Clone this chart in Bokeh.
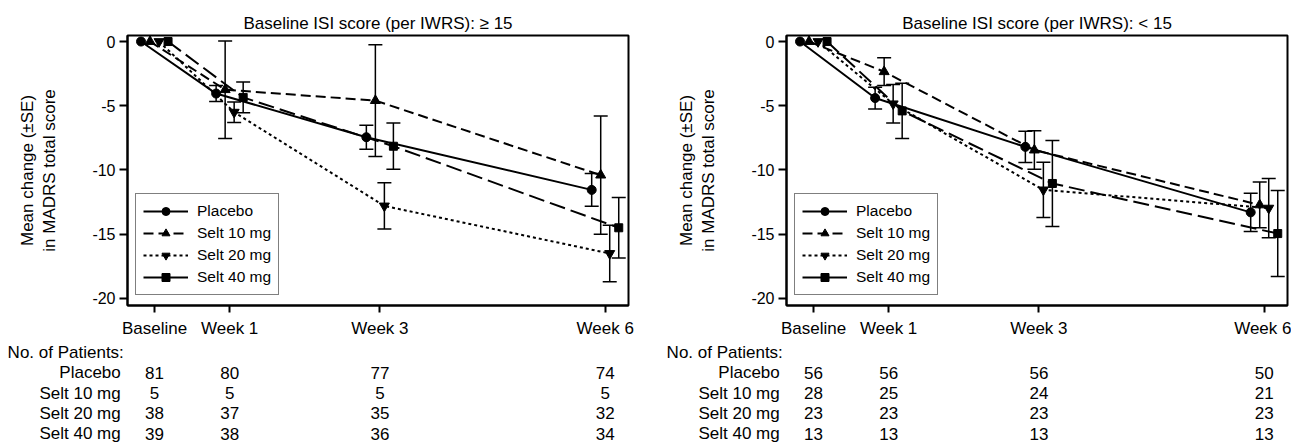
from bokeh.plotting import figure
from bokeh.models import (Range1d, FixedTicker, ColumnDataSource, Whisker, TeeHead,
                          Legend, LegendItem)
from bokeh.layouts import row, column
from bokeh.embed import file_html
from bokeh.resources import INLINE
from bokeh.core.properties import value

# ---------------- data ----------------
weeks = [0, 1, 3, 6]
week_labels = ["Baseline", "Week 1", "Week 3", "Week 6"]
y_ticks = [-20, -15, -10, -5, 0]
y_tick_labels = ["-20", "-15", "-10", "-5", "0"]
series_names = ["Placebo", "Selt 10 mg", "Selt 20 mg", "Selt 40 mg"]

# Panel A: Baseline ISI >= 15
a_title = "Baseline ISI score (per IWRS): \u2265 15"
a_placebo = [0, -4.05, -7.45, -11.55]
a_placebo_se = [0, 0.62, 0.93, 1.28]
a_selt10 = [0, -3.75, -4.6, -10.4]
a_selt10_se = [0, 3.8, 4.35, 4.6]
a_selt20 = [0, -5.5, -12.8, -16.5]
a_selt20_se = [0, 0.8, 1.8, 2.2]
a_selt40 = [0, -4.35, -8.15, -14.5]
a_selt40_se = [0, 1.2, 1.8, 2.35]
a_n_placebo = [81, 80, 77, 74]
a_n_selt10 = [5, 5, 5, 5]
a_n_selt20 = [38, 37, 35, 32]
a_n_selt40 = [39, 38, 36, 34]

# Panel B: Baseline ISI < 15
b_title = "Baseline ISI score (per IWRS): < 15"
b_placebo = [0, -4.4, -8.2, -13.3]
b_placebo_se = [0, 0.85, 1.22, 1.48]
b_selt10 = [0, -2.35, -8.45, -12.72]
b_selt10_se = [0, 1.08, 1.5, 1.78]
b_selt20 = [0, -4.85, -11.55, -12.97]
b_selt20_se = [0, 1.5, 2.15, 2.3]
b_selt40 = [0, -5.4, -11.05, -14.95]
b_selt40_se = [0, 2.15, 3.35, 3.35]
b_n_placebo = [56, 56, 56, 50]
b_n_selt10 = [28, 25, 24, 21]
b_n_selt20 = [23, 23, 23, 23]
b_n_selt40 = [13, 13, 13, 13]

# ---------------- style / layout ----------------
FONT = "Liberation Sans"
NAN = float("nan")
STYLES = [
    dict(marker="circle", size=9, dash="solid", legend_dash="solid"),
    dict(marker="triangle", size=10, dash="10 5", legend_dash="10 5"),
    dict(marker="inverted_triangle", size=10, dash="3 3", legend_dash="3 3"),
    dict(marker="square", size=8, dash="16 6", legend_dash="solid"),
]
DODGE = [-0.18, -0.06, 0.06, 0.18]
X_RANGE = (-0.36, 6.31)
Y_RANGE = (-20.55, 0.47)
BORDER_L, BORDER_T, BORDER_B = 127, 35, 35
FRAME_W = 501
TOP_H, TABLE_H = 340, 105
ROW_LABEL_X = -0.45
HEADER_X = -1.956


def make_panel(title, means, ses, width, border_r):
    p = figure(width=width, height=TOP_H, x_range=Range1d(*X_RANGE),
               y_range=Range1d(*Y_RANGE), output_backend="svg",
               toolbar_location=None, title=title,
               min_border_left=BORDER_L, min_border_right=border_r,
               min_border_top=BORDER_T, min_border_bottom=BORDER_B)
    p.grid.visible = False
    p.outline_line_color = "black"
    p.outline_line_width = 2
    p.background_fill_color = "white"
    p.border_fill_color = "white"
    p.title.align = "center"
    p.title.text_font = FONT
    p.title.text_font_size = "17px"
    p.title.text_font_style = "normal"
    p.title.text_color = "black"
    p.title.standoff = 6

    for ax in (p.xaxis, p.yaxis):
        ax.axis_line_width = 2
        ax.axis_line_color = "black"
        ax.major_tick_line_width = 2
        ax.major_tick_line_color = "black"
        ax.minor_tick_line_color = None
        ax.major_tick_in = 0
        ax.major_label_text_font = FONT
        ax.major_label_text_color = "black"
    p.xaxis.ticker = FixedTicker(ticks=weeks)
    p.xaxis.major_label_overrides = {w: l for w, l in zip(weeks, week_labels)}
    p.xaxis.major_tick_out = 7
    p.xaxis.major_label_text_font_size = "17px"
    p.xaxis.major_label_standoff = 6
    p.yaxis.ticker = FixedTicker(ticks=y_ticks)
    p.yaxis.major_label_overrides = {v: l for v, l in zip(y_ticks, y_tick_labels)}
    p.yaxis.major_tick_out = 8
    p.yaxis.major_label_text_font_size = "16px"
    p.yaxis.major_label_standoff = 4
    p.yaxis.axis_label = "Mean change (\u00b1SE)\nin MADRS total score"
    p.yaxis.axis_label_text_font = FONT
    p.yaxis.axis_label_text_font_size = "17px"
    p.yaxis.axis_label_text_font_style = "normal"
    p.yaxis.axis_label_text_color = "black"
    p.yaxis.axis_label_standoff = 30

    items = []
    for i, name in enumerate(series_names):
        st = STYLES[i]
        xs = [w + DODGE[i] for w in weeks]
        ys = means[i]
        p.line(xs, ys, line_color="black", line_width=2, line_dash=st["dash"])
        up = [m + s for m, s in zip(means[i], ses[i]) if s > 0]
        lo = [m - s for m, s in zip(means[i], ses[i]) if s > 0]
        bx = [x for x, s in zip(xs, ses[i]) if s > 0]
        src = ColumnDataSource(dict(x=bx, upper=up, lower=lo))
        wk = Whisker(source=src, base="x", upper="upper", lower="lower",
                     dimension="height", line_color="black", line_width=1.5,
                     upper_head=TeeHead(size=14, line_width=1.5, line_color="black"),
                     lower_head=TeeHead(size=14, line_width=1.5, line_color="black"))
        p.add_layout(wk)
        p.scatter(xs, ys, marker=st["marker"], size=st["size"],
                  fill_color="black", line_color="black")
        # legend proxies (not visible in the plot area)
        lr = p.line([NAN], [NAN], line_color="black", line_width=2,
                    line_dash=st["legend_dash"])
        lm = p.scatter([NAN], [NAN], marker=st["marker"], size=st["size"],
                       fill_color="black", line_color="black")
        items.append(LegendItem(label=name, renderers=[lr, lm]))

    leg = Legend(items=items, location=(8, 10), border_line_color="black",
                 border_line_width=1.5, background_fill_color="white",
                 background_fill_alpha=1.0, padding=7, spacing=2,
                 glyph_width=45, glyph_height=20, label_height=20,
                 label_standoff=9, label_text_font=FONT,
                 label_text_font_size="15.5px", label_text_color="black", margin=0)
    p.add_layout(leg, "center")
    return p


def make_table(counts, width):
    # frame spans the whole figure; same px-per-week as the plot above
    scale = (X_RANGE[1] - X_RANGE[0]) / FRAME_W
    t_start = X_RANGE[0] - BORDER_L * scale
    t_end = t_start + width * scale
    t = figure(width=width, height=TABLE_H, x_range=Range1d(t_start, t_end),
               y_range=Range1d(4.59, -0.59), output_backend="svg",
               toolbar_location=None, x_axis_location=None, y_axis_location=None,
               min_border=0)
    t.grid.visible = False
    t.outline_line_color = None
    t.text(x=[HEADER_X], y=[0], text=["No. of Patients:"], text_align="left",
           text_baseline="middle", text_font=value(FONT), text_font_size="17px",
           text_color="black")
    t.text(x=[ROW_LABEL_X] * 4, y=[1, 2, 3, 4], text=series_names, text_align="right",
           text_baseline="middle", text_font=value(FONT), text_font_size="17px",
           text_color="black")
    for i, r in enumerate(counts):
        t.text(x=weeks, y=[i + 1] * len(weeks), text=[str(v) for v in r],
               text_align="center", text_baseline="middle", text_font=value(FONT),
               text_font_size="17px", text_color="black")
    return t


W_A, W_B = 659, 632
pa = make_panel(a_title, [a_placebo, a_selt10, a_selt20, a_selt40],
                [a_placebo_se, a_selt10_se, a_selt20_se, a_selt40_se],
                W_A, W_A - BORDER_L - FRAME_W)
pb = make_panel(b_title, [b_placebo, b_selt10, b_selt20, b_selt40],
                [b_placebo_se, b_selt10_se, b_selt20_se, b_selt40_se],
                W_B, W_B - BORDER_L - FRAME_W)
ta = make_table([a_n_placebo, a_n_selt10, a_n_selt20, a_n_selt40], W_A)
tb = make_table([b_n_placebo, b_n_selt10, b_n_selt20, b_n_selt40], W_B)

layout = column(row(pa, pb, spacing=0), row(ta, tb, spacing=0), spacing=0)
open("out.html", "w").write(file_html(layout, INLINE))
